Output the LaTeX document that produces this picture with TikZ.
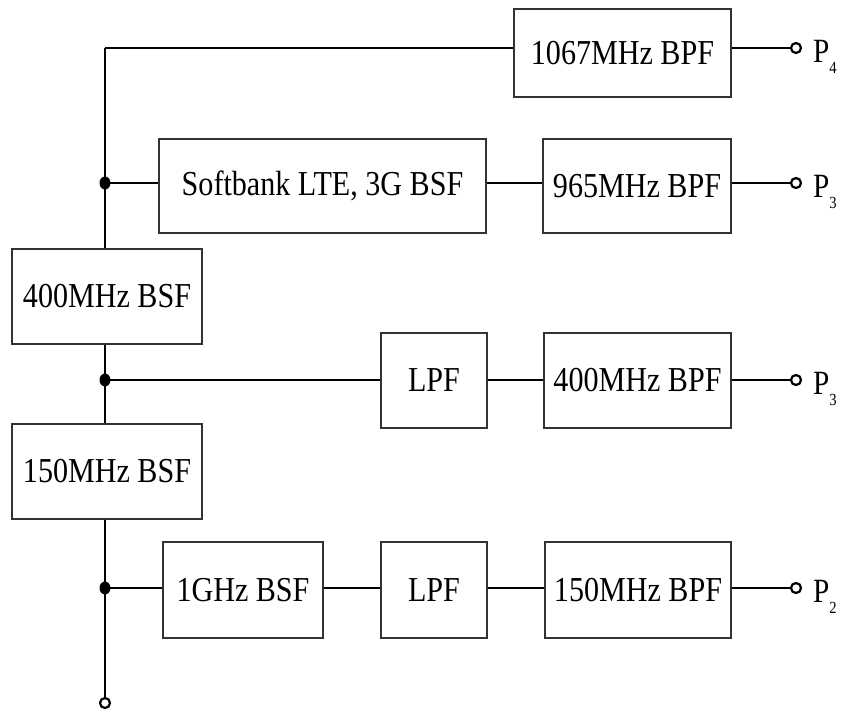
\documentclass[tikz,border=0pt]{standalone}
\usepackage{fontspec}
\setmainfont{Liberation Serif}[FakeStretch=0.86]
\usetikzlibrary{shapes.geometric}
\begin{document}
\begin{tikzpicture}[x=1pt,y=-1pt,
  filt/.style={draw=black!80, line width=1.7pt, inner sep=0pt, fill=white,
               font=\fontsize{35}{40}\selectfont},
  wire/.style={line width=2.6pt},
  jdot/.style={ellipse, fill=black, inner sep=0pt, minimum width=11pt, minimum height=13pt},
  term/.style={circle, draw, line width=2.2pt, fill=white, inner sep=0pt, minimum size=10pt},
  plabel/.style={anchor=base west, inner sep=0pt, font=\fontsize{34}{40}\selectfont}]
\useasboundingbox (0,0) rectangle (846,713);
\newcommand{\psub}[1]{P\raisebox{-11pt}{\fontsize{17}{17}\selectfont #1}}

% filter boxes
\node[filt, minimum width=217pt, minimum height=88pt] (b1067) at (622.5,53) {1067MHz BPF};
\node[filt, minimum width=327pt, minimum height=94pt] (bsoft) at (322.5,186) {Softbank LTE, 3G BSF};
\node[filt, minimum width=188pt, minimum height=94pt] (b965) at (637,186) {965MHz BPF};
\node[filt, minimum width=190pt, minimum height=95pt] (b400s) at (107,296.5) {400MHz BSF};
\node[filt, minimum width=106pt, minimum height=95pt] (lpfa) at (434,380.5) {LPF};
\node[filt, minimum width=187pt, minimum height=95pt] (b400p) at (637.5,380.5) {400MHz BPF};
\node[filt, minimum width=190pt, minimum height=95pt] (b150s) at (107,471.5) {150MHz BSF};
\node[filt, minimum width=160pt, minimum height=96pt] (b1g) at (243,590) {1GHz BSF};
\node[filt, minimum width=106pt, minimum height=96pt] (lpfb) at (434,590) {LPF};
\node[filt, minimum width=186pt, minimum height=96pt] (b150p) at (638,590) {150MHz BPF};

% junctions and terminals
\coordinate (top) at (105,48);
\coordinate (j2) at (105,183);
\coordinate (j3) at (105,380);
\coordinate (j4) at (105,588);
\node[term] (t4) at (796,48) {};
\node[term] (t3a) at (796,183) {};
\node[term] (t3b) at (796,380) {};
\node[term] (t2) at (796,588) {};
\node[term] (pin) at (105,703) {};

% main vertical line
\draw[wire] (top) -- (top |- b400s.north);
\draw[wire] (top |- b400s.south) -- (top |- b150s.north);
\draw[wire] (top |- b150s.south) -- (pin.north);

% row 1
\draw[wire] (top) -- (b1067.west |- top);
\draw[wire] (b1067.east |- top) -- (t4.west);
% row 2
\draw[wire] (j2) -- (bsoft.west |- j2);
\draw[wire] (bsoft.east |- j2) -- (b965.west |- j2);
\draw[wire] (b965.east |- j2) -- (t3a.west);
% row 3
\draw[wire] (j3) -- (lpfa.west |- j3);
\draw[wire] (lpfa.east |- j3) -- (b400p.west |- j3);
\draw[wire] (b400p.east |- j3) -- (t3b.west);
% row 4
\draw[wire] (j4) -- (b1g.west |- j4);
\draw[wire] (b1g.east |- j4) -- (lpfb.west |- j4);
\draw[wire] (lpfb.east |- j4) -- (b150p.west |- j4);
\draw[wire] (b150p.east |- j4) -- (t2.west);

\node[jdot] (d2) at (j2) {};
\node[jdot] (d3) at (j3) {};
\node[jdot] (d4) at (j4) {};

% port labels
\node[plabel] (l4) at (813,62) {\psub{4}};
\node[plabel] (l3a) at (813,197) {\psub{3}};
\node[plabel] (l3b) at (813,394) {\psub{3}};
\node[plabel] (l2) at (813,602) {\psub{2}};
\end{tikzpicture}
\end{document}
